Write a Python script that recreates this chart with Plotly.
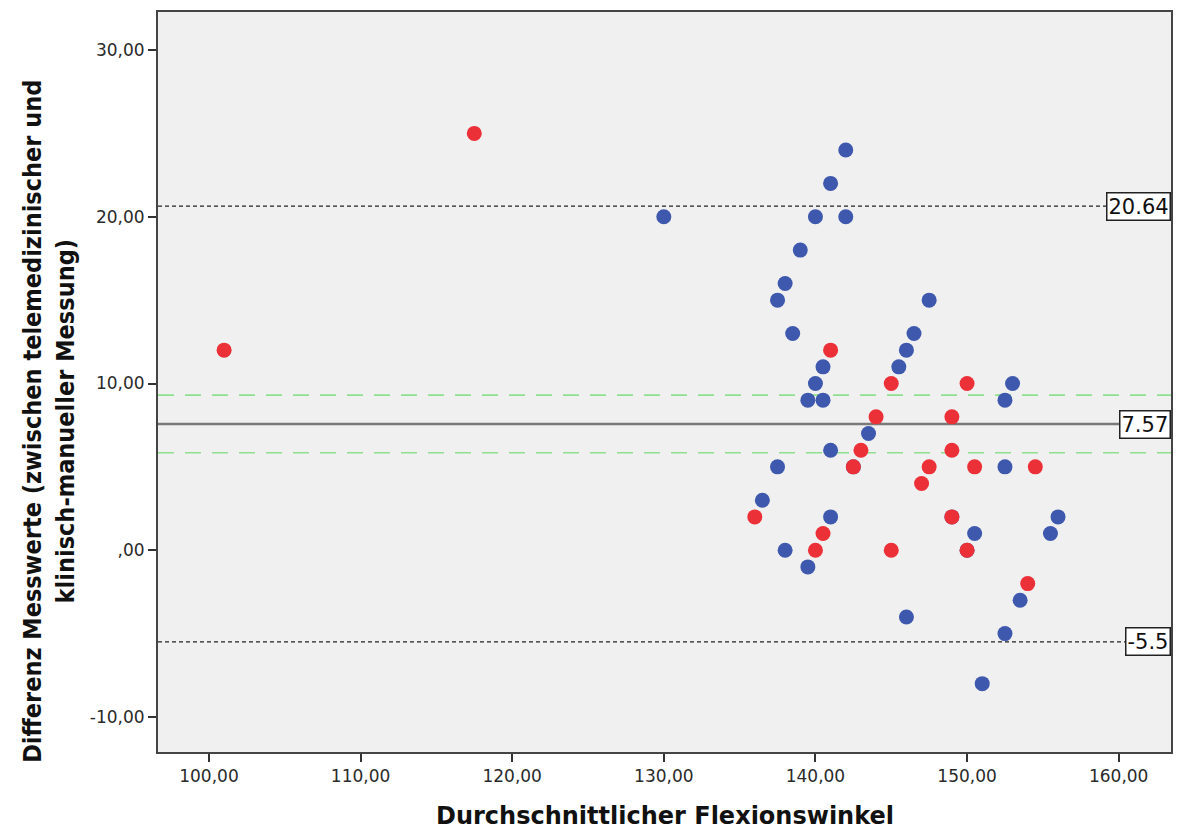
import plotly.graph_objects as go

# Data
blue_x = [142, 141, 130, 140, 142, 139, 138, 137.5, 138.5, 147.5, 146.5, 146, 145.5,
          140.5, 140, 139.5, 140.5, 143.5, 141, 142.5, 137.5, 136.5, 141, 138, 139.5,
          153, 152.5, 152.5, 150.5, 150, 149, 156, 155.5, 153.5, 152.5, 151, 146]
blue_y = [24, 22, 20, 20, 20, 18, 16, 15, 13, 15, 13, 12, 11,
          11, 10, 9, 9, 7, 6, 5, 5, 3, 2, 0, -1,
          10, 9, 5, 1, 0, 2, 2, 1, -3, -5, -8, -4]
red_x = [101, 117.5, 141, 145, 144, 143, 142.5, 136, 140.5, 140, 145,
         150, 149, 149, 147.5, 150.5, 154.5, 147, 149, 150, 154]
red_y = [12, 25, 12, 10, 8, 6, 5, 2, 1, 0, 0,
         10, 8, 6, 5, 5, 5, 4, 2, 0, -2]

mean_diff = 7.57
upper_loa = 20.64
lower_loa = -5.5
ci_upper = 9.3
ci_lower = 5.85

x_ticks = [100, 110, 120, 130, 140, 150, 160]
x_ticklabels = ["100,00", "110,00", "120,00", "130,00", "140,00", "150,00", "160,00"]
y_ticks = [-10, 0, 10, 20, 30]
y_ticklabels = ["-10,00", ",00", "10,00", "20,00", "30,00"]

x_range = [96.64, 163.45]
y_range = [-12.1, 32.28]

fig = go.Figure()

# reference lines
def hline(y, color, width, dash):
    fig.add_trace(go.Scatter(x=x_range, y=[y, y], mode="lines",
                             line=dict(color=color, width=width, dash=dash),
                             hoverinfo="skip", showlegend=False))

hline(upper_loa, "#222222", 1.2, "4px,3px")
hline(lower_loa, "#222222", 1.2, "4px,3px")
hline(ci_upper, "#8fe08f", 1.6, "16px,11px")
hline(ci_lower, "#8fe08f", 1.6, "16px,11px")
hline(mean_diff, "#7a7a7a", 2.4, "solid")

fig.add_trace(go.Scatter(x=blue_x, y=blue_y, mode="markers",
                         marker=dict(color="#3d58ad", size=15, line=dict(width=0)),
                         showlegend=False))
fig.add_trace(go.Scatter(x=red_x, y=red_y, mode="markers",
                         marker=dict(color="#ec3038", size=15, line=dict(width=0)),
                         showlegend=False))

for val, txt in [(upper_loa, "20.64"), (mean_diff, "7.57"), (lower_loa, "-5.5")]:
    fig.add_annotation(x=1, xref="paper", y=val, yref="y", text=txt,
                       xanchor="right", yanchor="middle", showarrow=False,
                       font=dict(family="DejaVu Sans, Liberation Sans", size=21, color="#111111"),
                       bgcolor="white", bordercolor="#222222", borderwidth=1.5,
                       borderpad=1)

fig.add_annotation(x=-0.107, y=0.447, xref="paper", yref="paper",
                   text="Differenz Messwerte (zwischen telemedizinischer und<br>klinisch-manueller Messung)",
                   textangle=-90, showarrow=False, xanchor="center", yanchor="middle",
                   font=dict(family="DejaVu Sans Condensed, Liberation Sans", size=25,
                             color="#111111", weight="bold"))
fig.add_annotation(x=0.5, y=-0.087, xref="paper", yref="paper",
                   text="Durchschnittlicher Flexionswinkel", showarrow=False,
                   xanchor="center", yanchor="middle",
                   font=dict(family="DejaVu Sans, Liberation Sans", size=24, color="#111111", weight="bold"))

axis_common = dict(showgrid=False, zeroline=False, showline=True, linecolor="#444444",
                   linewidth=2, mirror=True, ticks="outside", ticklen=8, tickwidth=1.5,
                   tickcolor="#333333",
                   tickfont=dict(family="DejaVu Sans, Liberation Sans", size=17, color="#2a2a2a"))

fig.update_xaxes(range=x_range, tickvals=x_ticks, ticktext=x_ticklabels, **axis_common)
fig.update_yaxes(range=y_range, tickvals=y_ticks, ticktext=y_ticklabels, **axis_common)

fig.update_layout(width=1177, height=829, paper_bgcolor="white", plot_bgcolor="#f0f0f0",
                  margin=dict(l=158, r=4, t=12, b=77), showlegend=False)

fig.write_html("out.html", config={"displayModeBar": False},
               post_script="document.body.style.margin='0';document.body.style.overflow='hidden';")
